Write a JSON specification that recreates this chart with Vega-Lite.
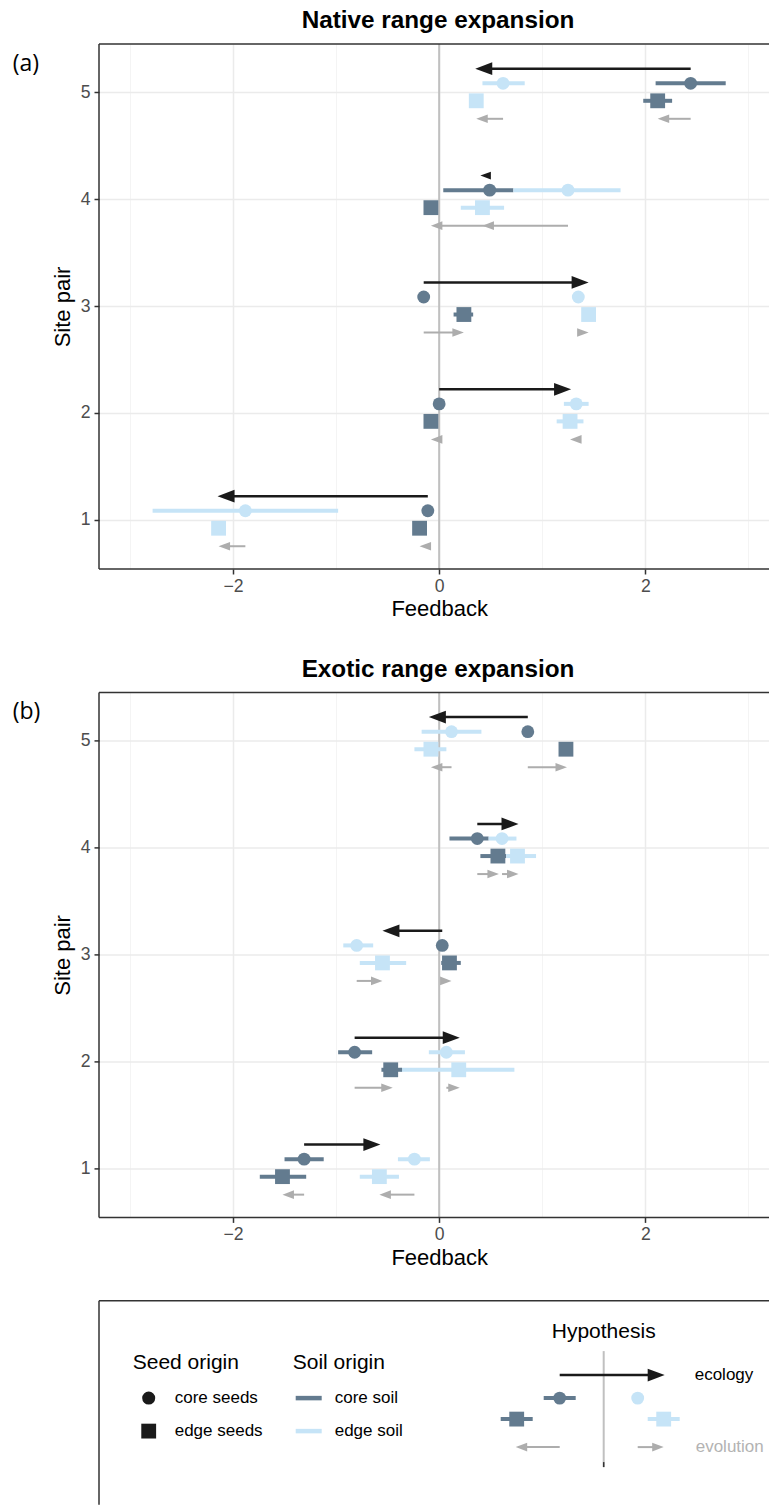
{
  "$schema": "https://vega.github.io/schema/vega-lite/v6.json",
  "background": "white",
  "padding": {"left": 12, "top": 9, "right": 0, "bottom": 0},
  "spacing": 31.4,
  "config": {
    "font": "Liberation Sans",
    "view": {"stroke": null},
    "title": {"font": "Liberation Sans", "fontSize": 24.3, "fontWeight": "bold", "color": "#000000", "anchor": "middle", "baseline": "alphabetic", "offset": 9.5, "dx": 4}
  },
  "datasets": {
    "pts": [
      {"panel": "a", "site": 5, "seed": "core seeds", "soil": "core soil", "fb": 2.44, "lo": 2.10, "hi": 2.78},
      {"panel": "a", "site": 5, "seed": "core seeds", "soil": "edge soil", "fb": 0.62, "lo": 0.42, "hi": 0.83},
      {"panel": "a", "site": 5, "seed": "edge seeds", "soil": "core soil", "fb": 2.12, "lo": 1.98, "hi": 2.26},
      {"panel": "a", "site": 5, "seed": "edge seeds", "soil": "edge soil", "fb": 0.36, "lo": 0.33, "hi": 0.39},
      {"panel": "a", "site": 4, "seed": "core seeds", "soil": "core soil", "fb": 0.49, "lo": 0.04, "hi": 0.72},
      {"panel": "a", "site": 4, "seed": "core seeds", "soil": "edge soil", "fb": 1.25, "lo": 0.72, "hi": 1.76},
      {"panel": "a", "site": 4, "seed": "edge seeds", "soil": "core soil", "fb": -0.08, "lo": -0.11, "hi": -0.05},
      {"panel": "a", "site": 4, "seed": "edge seeds", "soil": "edge soil", "fb": 0.42, "lo": 0.21, "hi": 0.63},
      {"panel": "a", "site": 3, "seed": "core seeds", "soil": "core soil", "fb": -0.15, "lo": -0.18, "hi": -0.12},
      {"panel": "a", "site": 3, "seed": "core seeds", "soil": "edge soil", "fb": 1.35, "lo": 1.32, "hi": 1.38},
      {"panel": "a", "site": 3, "seed": "edge seeds", "soil": "core soil", "fb": 0.24, "lo": 0.14, "hi": 0.33},
      {"panel": "a", "site": 3, "seed": "edge seeds", "soil": "edge soil", "fb": 1.45, "lo": 1.42, "hi": 1.48},
      {"panel": "a", "site": 2, "seed": "core seeds", "soil": "core soil", "fb": 0.00, "lo": -0.03, "hi": 0.03},
      {"panel": "a", "site": 2, "seed": "core seeds", "soil": "edge soil", "fb": 1.33, "lo": 1.21, "hi": 1.45},
      {"panel": "a", "site": 2, "seed": "edge seeds", "soil": "core soil", "fb": -0.08, "lo": -0.11, "hi": -0.05},
      {"panel": "a", "site": 2, "seed": "edge seeds", "soil": "edge soil", "fb": 1.27, "lo": 1.14, "hi": 1.40},
      {"panel": "a", "site": 1, "seed": "core seeds", "soil": "core soil", "fb": -0.11, "lo": -0.14, "hi": -0.08},
      {"panel": "a", "site": 1, "seed": "core seeds", "soil": "edge soil", "fb": -1.88, "lo": -2.78, "hi": -0.98},
      {"panel": "a", "site": 1, "seed": "edge seeds", "soil": "core soil", "fb": -0.19, "lo": -0.22, "hi": -0.16},
      {"panel": "a", "site": 1, "seed": "edge seeds", "soil": "edge soil", "fb": -2.14, "lo": -2.17, "hi": -2.11},
      {"panel": "b", "site": 5, "seed": "core seeds", "soil": "core soil", "fb": 0.86, "lo": 0.83, "hi": 0.89},
      {"panel": "b", "site": 5, "seed": "core seeds", "soil": "edge soil", "fb": 0.12, "lo": -0.17, "hi": 0.41},
      {"panel": "b", "site": 5, "seed": "edge seeds", "soil": "core soil", "fb": 1.23, "lo": 1.18, "hi": 1.28},
      {"panel": "b", "site": 5, "seed": "edge seeds", "soil": "edge soil", "fb": -0.08, "lo": -0.24, "hi": 0.07},
      {"panel": "b", "site": 4, "seed": "core seeds", "soil": "core soil", "fb": 0.37, "lo": 0.10, "hi": 0.48},
      {"panel": "b", "site": 4, "seed": "core seeds", "soil": "edge soil", "fb": 0.61, "lo": 0.48, "hi": 0.75},
      {"panel": "b", "site": 4, "seed": "edge seeds", "soil": "core soil", "fb": 0.57, "lo": 0.40, "hi": 0.65},
      {"panel": "b", "site": 4, "seed": "edge seeds", "soil": "edge soil", "fb": 0.76, "lo": 0.65, "hi": 0.94},
      {"panel": "b", "site": 3, "seed": "core seeds", "soil": "core soil", "fb": 0.03, "lo": 0.00, "hi": 0.06},
      {"panel": "b", "site": 3, "seed": "core seeds", "soil": "edge soil", "fb": -0.80, "lo": -0.93, "hi": -0.64},
      {"panel": "b", "site": 3, "seed": "edge seeds", "soil": "core soil", "fb": 0.10, "lo": 0.02, "hi": 0.21},
      {"panel": "b", "site": 3, "seed": "edge seeds", "soil": "edge soil", "fb": -0.55, "lo": -0.77, "hi": -0.32},
      {"panel": "b", "site": 2, "seed": "core seeds", "soil": "core soil", "fb": -0.82, "lo": -0.98, "hi": -0.65},
      {"panel": "b", "site": 2, "seed": "core seeds", "soil": "edge soil", "fb": 0.07, "lo": -0.10, "hi": 0.25},
      {"panel": "b", "site": 2, "seed": "edge seeds", "soil": "edge soil", "fb": 0.19, "lo": -0.38, "hi": 0.73},
      {"panel": "b", "site": 2, "seed": "edge seeds", "soil": "core soil", "fb": -0.47, "lo": -0.56, "hi": -0.36},
      {"panel": "b", "site": 1, "seed": "core seeds", "soil": "core soil", "fb": -1.31, "lo": -1.50, "hi": -1.12},
      {"panel": "b", "site": 1, "seed": "core seeds", "soil": "edge soil", "fb": -0.24, "lo": -0.40, "hi": -0.09},
      {"panel": "b", "site": 1, "seed": "edge seeds", "soil": "core soil", "fb": -1.52, "lo": -1.74, "hi": -1.29},
      {"panel": "b", "site": 1, "seed": "edge seeds", "soil": "edge soil", "fb": -0.58, "lo": -0.77, "hi": -0.39}
    ],
    "arr": [
      {"panel": "a", "site": 5, "kind": "ecology", "from": 2.44, "to": 0.35},
      {"panel": "a", "site": 5, "kind": "evolution", "from": 0.62, "to": 0.36},
      {"panel": "a", "site": 5, "kind": "evolution", "from": 2.44, "to": 2.12},
      {"panel": "a", "site": 4, "kind": "ecology", "from": 0.49, "to": 0.40},
      {"panel": "a", "site": 4, "kind": "evolution", "from": 1.25, "to": 0.42},
      {"panel": "a", "site": 4, "kind": "evolution", "from": 0.49, "to": -0.08},
      {"panel": "a", "site": 3, "kind": "ecology", "from": -0.15, "to": 1.45},
      {"panel": "a", "site": 3, "kind": "evolution", "from": -0.15, "to": 0.24},
      {"panel": "a", "site": 3, "kind": "evolution", "from": 1.35, "to": 1.45},
      {"panel": "a", "site": 2, "kind": "ecology", "from": 0.00, "to": 1.28},
      {"panel": "a", "site": 2, "kind": "evolution", "from": 0.00, "to": -0.08},
      {"panel": "a", "site": 2, "kind": "evolution", "from": 1.33, "to": 1.27},
      {"panel": "a", "site": 1, "kind": "ecology", "from": -0.11, "to": -2.15},
      {"panel": "a", "site": 1, "kind": "evolution", "from": -1.88, "to": -2.14},
      {"panel": "a", "site": 1, "kind": "evolution", "from": -0.11, "to": -0.19},
      {"panel": "b", "site": 5, "kind": "ecology", "from": 0.86, "to": -0.10},
      {"panel": "b", "site": 5, "kind": "evolution", "from": 0.12, "to": -0.08},
      {"panel": "b", "site": 5, "kind": "evolution", "from": 0.86, "to": 1.24},
      {"panel": "b", "site": 4, "kind": "ecology", "from": 0.37, "to": 0.77},
      {"panel": "b", "site": 4, "kind": "evolution", "from": 0.37, "to": 0.58},
      {"panel": "b", "site": 4, "kind": "evolution", "from": 0.61, "to": 0.77},
      {"panel": "b", "site": 3, "kind": "ecology", "from": 0.03, "to": -0.55},
      {"panel": "b", "site": 3, "kind": "evolution", "from": -0.80, "to": -0.55},
      {"panel": "b", "site": 3, "kind": "evolution", "from": 0.03, "to": 0.12},
      {"panel": "b", "site": 2, "kind": "ecology", "from": -0.82, "to": 0.20},
      {"panel": "b", "site": 2, "kind": "evolution", "from": -0.82, "to": -0.45},
      {"panel": "b", "site": 2, "kind": "evolution", "from": 0.07, "to": 0.20},
      {"panel": "b", "site": 1, "kind": "ecology", "from": -1.31, "to": -0.57},
      {"panel": "b", "site": 1, "kind": "evolution", "from": -1.31, "to": -1.52},
      {"panel": "b", "site": 1, "kind": "evolution", "from": -0.24, "to": -0.58}
    ]
  },
  "vconcat": [
    {
      "width": 670, "height": 525,
      "title": {"text": "Native range expansion"},
      "layer": [
        {"mark": {"type": "rule", "color": "#c0c0c0", "strokeWidth": 2}, "data": {"values": [{}]},
         "encoding": {"x": {"datum": 0, "type": "quantitative", "scale": {"domain": [-3.3, 3.2], "nice": false, "zero": false}}}},
        {"data": {"name": "pts"}, "transform": [{"filter": "datum.panel === 'a' && datum.seed === 'core seeds'"}],
         "mark": {"type": "rule", "strokeWidth": 4, "strokeCap": "butt", "yOffset": -9},
         "encoding": {
           "x": {"field": "lo", "type": "quantitative", "scale": {"domain": [-3.3, 3.2], "nice": false, "zero": false},
             "axis": {"title": "Feedback", "values": [-3, -2, -1, 0, 1, 2, 3], "format": "d", "labelExpr": "datum.value % 2 === 0 ? datum.label : ''", "grid": true,
               "gridColor": {"condition": {"test": "datum.value % 2 !== 0", "value": "#f4f4f4"}, "value": "#ebebeb"},
               "gridWidth": {"condition": {"test": "datum.value % 2 !== 0", "value": 1}, "value": 1.5},
               "tickColor": {"condition": {"test": "datum.value % 2 !== 0", "value": "transparent"}, "value": "#333333"},
               "tickSize": 5, "tickWidth": 1.5, "domain": false, "labelFontSize": 17.6, "labelColor": "#4d4d4d", "labelPadding": 3, "labelFont": "Liberation Sans",
               "titleFontSize": 22, "titleFontWeight": "normal", "titleColor": "#000000", "titlePadding": 4, "titleX": 340.2, "titleFont": "Liberation Sans"}},
           "x2": {"field": "hi"},
           "y": {"field": "site", "type": "quantitative", "scale": {"domain": [0.539, 5.452], "nice": false, "zero": false},
             "axis": {"title": "Site pair", "values": [1, 2, 3, 4, 5], "format": "d", "grid": true, "gridColor": "#ebebeb", "gridWidth": 1.5, "tickSize": 5, "tickWidth": 1.5, "tickColor": "#333333", "domain": false,
               "labelFontSize": 17.6, "labelColor": "#4d4d4d", "labelPadding": 4, "titleFontSize": 22, "titleFontWeight": "normal", "titleColor": "#000000", "titlePadding": 6}},
           "color": {"field": "soil", "type": "nominal", "scale": {"domain": ["core soil", "edge soil"], "range": ["#637b8f", "#c6e4f7"]}, "legend": null}
         }},
        {"data": {"name": "pts"}, "transform": [{"filter": "datum.panel === 'a' && datum.seed === 'edge seeds'"}],
         "mark": {"type": "rule", "strokeWidth": 4, "strokeCap": "butt", "yOffset": 8.5},
         "encoding": {
           "x": {"field": "lo", "type": "quantitative", "scale": {"domain": [-3.3, 3.2], "nice": false, "zero": false}},
           "x2": {"field": "hi"},
           "y": {"field": "site", "type": "quantitative", "scale": {"domain": [0.539, 5.452], "nice": false, "zero": false}},
           "color": {"field": "soil", "type": "nominal", "scale": {"domain": ["core soil", "edge soil"], "range": ["#637b8f", "#c6e4f7"]}, "legend": null}
         }},
        {"data": {"name": "pts"}, "transform": [{"filter": "datum.panel === 'a' && datum.seed === 'core seeds'"}],
         "mark": {"type": "point", "shape": "circle", "filled": true, "opacity": 1, "size": 165, "yOffset": -9},
         "encoding": {
           "x": {"field": "fb", "type": "quantitative", "scale": {"domain": [-3.3, 3.2], "nice": false, "zero": false}},
           "y": {"field": "site", "type": "quantitative", "scale": {"domain": [0.539, 5.452], "nice": false, "zero": false}},
           "color": {"field": "soil", "type": "nominal", "scale": {"domain": ["core soil", "edge soil"], "range": ["#637b8f", "#c6e4f7"]}, "legend": null}
         }},
        {"data": {"name": "pts"}, "transform": [{"filter": "datum.panel === 'a' && datum.seed === 'edge seeds'"}],
         "mark": {"type": "point", "shape": "square", "filled": true, "opacity": 1, "size": 220, "yOffset": 8.5},
         "encoding": {
           "x": {"field": "fb", "type": "quantitative", "scale": {"domain": [-3.3, 3.2], "nice": false, "zero": false}},
           "y": {"field": "site", "type": "quantitative", "scale": {"domain": [0.539, 5.452], "nice": false, "zero": false}},
           "color": {"field": "soil", "type": "nominal", "scale": {"domain": ["core soil", "edge soil"], "range": ["#637b8f", "#c6e4f7"]}, "legend": null}
         }},
        {"data": {"name": "arr"}, "transform": [{"filter": "datum.panel === 'a' && datum.kind === 'evolution' && datum.to > datum.from"}],
         "mark": {"type": "rule", "color": "#adadad", "strokeWidth": 2, "strokeCap": "butt", "yOffset": 26.5, "x2Offset": -5},
         "encoding": {
           "x": {"field": "from", "type": "quantitative", "scale": {"domain": [-3.3, 3.2], "nice": false, "zero": false}},
           "x2": {"field": "to"},
           "y": {"field": "site", "type": "quantitative", "scale": {"domain": [0.539, 5.452], "nice": false, "zero": false}}
         }},
        {"data": {"name": "arr"}, "transform": [{"filter": "datum.panel === 'a' && datum.kind === 'evolution' && datum.to < datum.from"}],
         "mark": {"type": "rule", "color": "#adadad", "strokeWidth": 2, "strokeCap": "butt", "yOffset": 26.5, "x2Offset": 5},
         "encoding": {
           "x": {"field": "from", "type": "quantitative", "scale": {"domain": [-3.3, 3.2], "nice": false, "zero": false}},
           "x2": {"field": "to"},
           "y": {"field": "site", "type": "quantitative", "scale": {"domain": [0.539, 5.452], "nice": false, "zero": false}}
         }},
        {"data": {"name": "arr"}, "transform": [{"filter": "datum.panel === 'a' && datum.kind === 'evolution'"}],
         "mark": {"type": "point", "filled": true, "opacity": 1, "color": "#adadad", "size": 132, "yOffset": 26.5},
         "encoding": {
           "x": {"field": "to", "type": "quantitative", "scale": {"domain": [-3.3, 3.2], "nice": false, "zero": false}},
           "y": {"field": "site", "type": "quantitative", "scale": {"domain": [0.539, 5.452], "nice": false, "zero": false}},
           "shape": {"condition": {"test": "datum.to > datum.from", "value": "M0,0L-2,-0.75L-2,0.75Z"}, "value": "M0,0L2,-0.75L2,0.75Z"}
         }},
        {"data": {"name": "arr"}, "transform": [{"filter": "datum.panel === 'a' && datum.kind === 'ecology' && datum.to > datum.from"}],
         "mark": {"type": "rule", "color": "#1a1a1a", "strokeWidth": 2.5, "strokeCap": "butt", "yOffset": -23.6, "x2Offset": -8},
         "encoding": {
           "x": {"field": "from", "type": "quantitative", "scale": {"domain": [-3.3, 3.2], "nice": false, "zero": false}},
           "x2": {"field": "to"},
           "y": {"field": "site", "type": "quantitative", "scale": {"domain": [0.539, 5.452], "nice": false, "zero": false}}
         }},
        {"data": {"name": "arr"}, "transform": [{"filter": "datum.panel === 'a' && datum.kind === 'ecology' && datum.to < datum.from"}],
         "mark": {"type": "rule", "color": "#1a1a1a", "strokeWidth": 2.5, "strokeCap": "butt", "yOffset": -23.6, "x2Offset": 8},
         "encoding": {
           "x": {"field": "from", "type": "quantitative", "scale": {"domain": [-3.3, 3.2], "nice": false, "zero": false}},
           "x2": {"field": "to"},
           "y": {"field": "site", "type": "quantitative", "scale": {"domain": [0.539, 5.452], "nice": false, "zero": false}}
         }},
        {"data": {"name": "arr"}, "transform": [{"filter": "datum.panel === 'a' && datum.kind === 'ecology'"}],
         "mark": {"type": "point", "filled": true, "opacity": 1, "color": "#1a1a1a", "yOffset": -23.6},
         "encoding": {
           "x": {"field": "to", "type": "quantitative", "scale": {"domain": [-3.3, 3.2], "nice": false, "zero": false}},
           "y": {"field": "site", "type": "quantitative", "scale": {"domain": [0.539, 5.452], "nice": false, "zero": false}},
           "shape": {"condition": {"test": "datum.to > datum.from", "value": "M0,0L-2,-0.75L-2,0.75Z"}, "value": "M0,0L2,-0.75L2,0.75Z"},
           "size": {"condition": {"test": "abs(datum.to - datum.from) < 0.15", "value": 110}, "value": 289}
         }},
        {"mark": {"type": "rule", "color": "#333333", "strokeWidth": 1.5}, "data": {"values": [{}]},
         "encoding": {"y": {"datum": 5.452, "type": "quantitative", "scale": {"domain": [0.539, 5.452], "nice": false, "zero": false}}}},
        {"mark": {"type": "rule", "color": "#333333", "strokeWidth": 1.5}, "data": {"values": [{}]},
         "encoding": {"y": {"datum": 0.539, "type": "quantitative", "scale": {"domain": [0.539, 5.452], "nice": false, "zero": false}}}},
        {"mark": {"type": "rule", "color": "#333333", "strokeWidth": 1.5}, "data": {"values": [{}]},
         "encoding": {"x": {"datum": -3.3, "type": "quantitative", "scale": {"domain": [-3.3, 3.2], "nice": false, "zero": false}}}},
        {"mark": {"type": "rule", "opacity": 0, "strokeWidth": 0.1}, "data": {"values": [{}]},
         "encoding": {
           "x": {"datum": -3.3, "type": "quantitative", "scale": {"domain": [-3.3, 3.2], "nice": false, "zero": false}},
           "y": {"datum": 0.539, "type": "quantitative", "scale": {"domain": [0.539, 5.452], "nice": false, "zero": false}},
           "y2": {"datum": 0.006}
         }},
        {"mark": {"type": "text", "font": "Open Sans", "fontSize": 23, "align": "left", "baseline": "middle", "color": "#000000"}, "data": {"values": [{}]},
         "encoding": {
           "x": {"datum": -4.137, "type": "quantitative", "scale": {"domain": [-3.3, 3.2], "nice": false, "zero": false}},
           "y": {"datum": 5.268, "type": "quantitative", "scale": {"domain": [0.539, 5.452], "nice": false, "zero": false}},
           "text": {"value": "(a)"}
         }}
      ]
    },
    {
      "width": 670, "height": 525,
      "title": {"text": "Exotic range expansion"},
      "layer": [
        {"mark": {"type": "rule", "color": "#c0c0c0", "strokeWidth": 2}, "data": {"values": [{}]},
         "encoding": {"x": {"datum": 0, "type": "quantitative", "scale": {"domain": [-3.3, 3.2], "nice": false, "zero": false}}}},
        {"data": {"name": "pts"}, "transform": [{"filter": "datum.panel === 'b' && datum.seed === 'core seeds'"}],
         "mark": {"type": "rule", "strokeWidth": 4, "strokeCap": "butt", "yOffset": -9},
         "encoding": {
           "x": {"field": "lo", "type": "quantitative", "scale": {"domain": [-3.3, 3.2], "nice": false, "zero": false},
             "axis": {"title": "Feedback", "values": [-3, -2, -1, 0, 1, 2, 3], "format": "d", "labelExpr": "datum.value % 2 === 0 ? datum.label : ''", "grid": true,
               "gridColor": {"condition": {"test": "datum.value % 2 !== 0", "value": "#f4f4f4"}, "value": "#ebebeb"},
               "gridWidth": {"condition": {"test": "datum.value % 2 !== 0", "value": 1}, "value": 1.5},
               "tickColor": {"condition": {"test": "datum.value % 2 !== 0", "value": "transparent"}, "value": "#333333"},
               "tickSize": 5, "tickWidth": 1.5, "domain": false, "labelFontSize": 17.6, "labelColor": "#4d4d4d", "labelPadding": 3, "labelFont": "Liberation Sans",
               "titleFontSize": 22, "titleFontWeight": "normal", "titleColor": "#000000", "titlePadding": 4, "titleX": 340.2, "titleFont": "Liberation Sans"}},
           "x2": {"field": "hi"},
           "y": {"field": "site", "type": "quantitative", "scale": {"domain": [0.539, 5.452], "nice": false, "zero": false},
             "axis": {"title": "Site pair", "values": [1, 2, 3, 4, 5], "format": "d", "grid": true, "gridColor": "#ebebeb", "gridWidth": 1.5, "tickSize": 5, "tickWidth": 1.5, "tickColor": "#333333", "domain": false,
               "labelFontSize": 17.6, "labelColor": "#4d4d4d", "labelPadding": 4, "titleFontSize": 22, "titleFontWeight": "normal", "titleColor": "#000000", "titlePadding": 6}},
           "color": {"field": "soil", "type": "nominal", "scale": {"domain": ["core soil", "edge soil"], "range": ["#637b8f", "#c6e4f7"]}, "legend": null}
         }},
        {"data": {"name": "pts"}, "transform": [{"filter": "datum.panel === 'b' && datum.seed === 'edge seeds'"}],
         "mark": {"type": "rule", "strokeWidth": 4, "strokeCap": "butt", "yOffset": 8.5},
         "encoding": {
           "x": {"field": "lo", "type": "quantitative", "scale": {"domain": [-3.3, 3.2], "nice": false, "zero": false}},
           "x2": {"field": "hi"},
           "y": {"field": "site", "type": "quantitative", "scale": {"domain": [0.539, 5.452], "nice": false, "zero": false}},
           "color": {"field": "soil", "type": "nominal", "scale": {"domain": ["core soil", "edge soil"], "range": ["#637b8f", "#c6e4f7"]}, "legend": null}
         }},
        {"data": {"name": "pts"}, "transform": [{"filter": "datum.panel === 'b' && datum.seed === 'core seeds'"}],
         "mark": {"type": "point", "shape": "circle", "filled": true, "opacity": 1, "size": 165, "yOffset": -9},
         "encoding": {
           "x": {"field": "fb", "type": "quantitative", "scale": {"domain": [-3.3, 3.2], "nice": false, "zero": false}},
           "y": {"field": "site", "type": "quantitative", "scale": {"domain": [0.539, 5.452], "nice": false, "zero": false}},
           "color": {"field": "soil", "type": "nominal", "scale": {"domain": ["core soil", "edge soil"], "range": ["#637b8f", "#c6e4f7"]}, "legend": null}
         }},
        {"data": {"name": "pts"}, "transform": [{"filter": "datum.panel === 'b' && datum.seed === 'edge seeds'"}],
         "mark": {"type": "point", "shape": "square", "filled": true, "opacity": 1, "size": 220, "yOffset": 8.5},
         "encoding": {
           "x": {"field": "fb", "type": "quantitative", "scale": {"domain": [-3.3, 3.2], "nice": false, "zero": false}},
           "y": {"field": "site", "type": "quantitative", "scale": {"domain": [0.539, 5.452], "nice": false, "zero": false}},
           "color": {"field": "soil", "type": "nominal", "scale": {"domain": ["core soil", "edge soil"], "range": ["#637b8f", "#c6e4f7"]}, "legend": null}
         }},
        {"data": {"name": "arr"}, "transform": [{"filter": "datum.panel === 'b' && datum.kind === 'evolution' && datum.to > datum.from"}],
         "mark": {"type": "rule", "color": "#adadad", "strokeWidth": 2, "strokeCap": "butt", "yOffset": 26.5, "x2Offset": -5},
         "encoding": {
           "x": {"field": "from", "type": "quantitative", "scale": {"domain": [-3.3, 3.2], "nice": false, "zero": false}},
           "x2": {"field": "to"},
           "y": {"field": "site", "type": "quantitative", "scale": {"domain": [0.539, 5.452], "nice": false, "zero": false}}
         }},
        {"data": {"name": "arr"}, "transform": [{"filter": "datum.panel === 'b' && datum.kind === 'evolution' && datum.to < datum.from"}],
         "mark": {"type": "rule", "color": "#adadad", "strokeWidth": 2, "strokeCap": "butt", "yOffset": 26.5, "x2Offset": 5},
         "encoding": {
           "x": {"field": "from", "type": "quantitative", "scale": {"domain": [-3.3, 3.2], "nice": false, "zero": false}},
           "x2": {"field": "to"},
           "y": {"field": "site", "type": "quantitative", "scale": {"domain": [0.539, 5.452], "nice": false, "zero": false}}
         }},
        {"data": {"name": "arr"}, "transform": [{"filter": "datum.panel === 'b' && datum.kind === 'evolution'"}],
         "mark": {"type": "point", "filled": true, "opacity": 1, "color": "#adadad", "size": 132, "yOffset": 26.5},
         "encoding": {
           "x": {"field": "to", "type": "quantitative", "scale": {"domain": [-3.3, 3.2], "nice": false, "zero": false}},
           "y": {"field": "site", "type": "quantitative", "scale": {"domain": [0.539, 5.452], "nice": false, "zero": false}},
           "shape": {"condition": {"test": "datum.to > datum.from", "value": "M0,0L-2,-0.75L-2,0.75Z"}, "value": "M0,0L2,-0.75L2,0.75Z"}
         }},
        {"data": {"name": "arr"}, "transform": [{"filter": "datum.panel === 'b' && datum.kind === 'ecology' && datum.to > datum.from"}],
         "mark": {"type": "rule", "color": "#1a1a1a", "strokeWidth": 2.5, "strokeCap": "butt", "yOffset": -23.6, "x2Offset": -8},
         "encoding": {
           "x": {"field": "from", "type": "quantitative", "scale": {"domain": [-3.3, 3.2], "nice": false, "zero": false}},
           "x2": {"field": "to"},
           "y": {"field": "site", "type": "quantitative", "scale": {"domain": [0.539, 5.452], "nice": false, "zero": false}}
         }},
        {"data": {"name": "arr"}, "transform": [{"filter": "datum.panel === 'b' && datum.kind === 'ecology' && datum.to < datum.from"}],
         "mark": {"type": "rule", "color": "#1a1a1a", "strokeWidth": 2.5, "strokeCap": "butt", "yOffset": -23.6, "x2Offset": 8},
         "encoding": {
           "x": {"field": "from", "type": "quantitative", "scale": {"domain": [-3.3, 3.2], "nice": false, "zero": false}},
           "x2": {"field": "to"},
           "y": {"field": "site", "type": "quantitative", "scale": {"domain": [0.539, 5.452], "nice": false, "zero": false}}
         }},
        {"data": {"name": "arr"}, "transform": [{"filter": "datum.panel === 'b' && datum.kind === 'ecology'"}],
         "mark": {"type": "point", "filled": true, "opacity": 1, "color": "#1a1a1a", "yOffset": -23.6},
         "encoding": {
           "x": {"field": "to", "type": "quantitative", "scale": {"domain": [-3.3, 3.2], "nice": false, "zero": false}},
           "y": {"field": "site", "type": "quantitative", "scale": {"domain": [0.539, 5.452], "nice": false, "zero": false}},
           "shape": {"condition": {"test": "datum.to > datum.from", "value": "M0,0L-2,-0.75L-2,0.75Z"}, "value": "M0,0L2,-0.75L2,0.75Z"},
           "size": {"condition": {"test": "abs(datum.to - datum.from) < 0.15", "value": 110}, "value": 289}
         }},
        {"mark": {"type": "rule", "color": "#333333", "strokeWidth": 1.5}, "data": {"values": [{}]},
         "encoding": {"y": {"datum": 5.452, "type": "quantitative", "scale": {"domain": [0.539, 5.452], "nice": false, "zero": false}}}},
        {"mark": {"type": "rule", "color": "#333333", "strokeWidth": 1.5}, "data": {"values": [{}]},
         "encoding": {"y": {"datum": 0.539, "type": "quantitative", "scale": {"domain": [0.539, 5.452], "nice": false, "zero": false}}}},
        {"mark": {"type": "rule", "color": "#333333", "strokeWidth": 1.5}, "data": {"values": [{}]},
         "encoding": {"x": {"datum": -3.3, "type": "quantitative", "scale": {"domain": [-3.3, 3.2], "nice": false, "zero": false}}}},
        {"mark": {"type": "text", "font": "Open Sans", "fontSize": 23, "align": "left", "baseline": "middle", "color": "#000000"}, "data": {"values": [{}]},
         "encoding": {
           "x": {"datum": -4.137, "type": "quantitative", "scale": {"domain": [-3.3, 3.2], "nice": false, "zero": false}},
           "y": {"datum": 5.268, "type": "quantitative", "scale": {"domain": [0.539, 5.452], "nice": false, "zero": false}},
           "text": {"value": "(b)"}
         }}
      ]
    },
    {
      "width": 670, "height": 204,
      "data": {"values": [{}]},
      "layer": [
        {"mark": {"type": "rule", "color": "#333333", "strokeWidth": 1.5},
         "encoding": {"y": {"datum": 0, "type": "quantitative", "scale": {"domain": [0, 20.4], "nice": false, "zero": false, "reverse": true}, "axis": null}}},
        {"mark": {"type": "rule", "color": "#333333", "strokeWidth": 1.5},
         "encoding": {"x": {"datum": 0, "type": "quantitative", "scale": {"domain": [0, 67], "nice": false, "zero": false}, "axis": null}}},
        {"mark": {"type": "text", "align": "left", "baseline": "middle", "fontSize": 21, "color": "#000000"},
         "encoding": {"x": {"datum": 3.37, "type": "quantitative"}, "y": {"datum": 6.2, "type": "quantitative"}, "text": {"value": "Seed origin"}}},
        {"mark": {"type": "point", "shape": "circle", "filled": true, "opacity": 1, "size": 170, "color": "#1a1a1a"},
         "encoding": {"x": {"datum": 4.97, "type": "quantitative"}, "y": {"datum": 9.73, "type": "quantitative"}}},
        {"mark": {"type": "text", "align": "left", "baseline": "middle", "fontSize": 17, "color": "#000000"},
         "encoding": {"x": {"datum": 7.57, "type": "quantitative"}, "y": {"datum": 9.73, "type": "quantitative"}, "text": {"value": "core seeds"}}},
        {"mark": {"type": "point", "shape": "square", "filled": true, "opacity": 1, "size": 220, "color": "#1a1a1a"},
         "encoding": {"x": {"datum": 4.97, "type": "quantitative"}, "y": {"datum": 13.03, "type": "quantitative"}}},
        {"mark": {"type": "text", "align": "left", "baseline": "middle", "fontSize": 17, "color": "#000000"},
         "encoding": {"x": {"datum": 7.57, "type": "quantitative"}, "y": {"datum": 13.03, "type": "quantitative"}, "text": {"value": "edge seeds"}}},
        {"mark": {"type": "text", "align": "left", "baseline": "middle", "fontSize": 21, "color": "#000000"},
         "encoding": {"x": {"datum": 19.37, "type": "quantitative"}, "y": {"datum": 6.2, "type": "quantitative"}, "text": {"value": "Soil origin"}}},
        {"mark": {"type": "rule", "color": "#637b8f", "strokeWidth": 4.5, "strokeCap": "butt"},
         "encoding": {"x": {"datum": 19.67, "type": "quantitative"}, "x2": {"datum": 22.27}, "y": {"datum": 9.73, "type": "quantitative"}}},
        {"mark": {"type": "text", "align": "left", "baseline": "middle", "fontSize": 17, "color": "#000000"},
         "encoding": {"x": {"datum": 23.57, "type": "quantitative"}, "y": {"datum": 9.73, "type": "quantitative"}, "text": {"value": "core soil"}}},
        {"mark": {"type": "rule", "color": "#c6e4f7", "strokeWidth": 4.5, "strokeCap": "butt"},
         "encoding": {"x": {"datum": 19.67, "type": "quantitative"}, "x2": {"datum": 22.27}, "y": {"datum": 13.03, "type": "quantitative"}}},
        {"mark": {"type": "text", "align": "left", "baseline": "middle", "fontSize": 17, "color": "#000000"},
         "encoding": {"x": {"datum": 23.57, "type": "quantitative"}, "y": {"datum": 13.03, "type": "quantitative"}, "text": {"value": "edge soil"}}},
        {"mark": {"type": "text", "align": "center", "baseline": "middle", "fontSize": 21, "color": "#000000"},
         "encoding": {"x": {"datum": 50.47, "type": "quantitative"}, "y": {"datum": 3.13, "type": "quantitative"}, "text": {"value": "Hypothesis"}}},
        {"mark": {"type": "rule", "color": "#c0c0c0", "strokeWidth": 2},
         "encoding": {"x": {"datum": 50.47, "type": "quantitative"}, "y": {"datum": 5.03, "type": "quantitative"}, "y2": {"datum": 16.63}}},
        {"mark": {"type": "rule", "color": "#333333", "strokeWidth": 1.5},
         "encoding": {"x": {"datum": 50.47, "type": "quantitative"}, "y": {"datum": 16.13, "type": "quantitative"}, "y2": {"datum": 16.63}}},
        {"mark": {"type": "rule", "color": "#1a1a1a", "strokeWidth": 2.5, "strokeCap": "butt", "x2Offset": -8},
         "encoding": {"x": {"datum": 46.07, "type": "quantitative"}, "x2": {"datum": 56.57}, "y": {"datum": 7.43, "type": "quantitative"}}},
        {"mark": {"type": "point", "filled": true, "opacity": 1, "color": "#1a1a1a", "size": 289, "shape": "M0,0L-2,-0.75L-2,0.75Z"},
         "encoding": {"x": {"datum": 56.57, "type": "quantitative"}, "y": {"datum": 7.43, "type": "quantitative"}}},
        {"mark": {"type": "text", "align": "left", "baseline": "middle", "fontSize": 17, "color": "#000000"},
         "encoding": {"x": {"datum": 59.57, "type": "quantitative"}, "y": {"datum": 7.43, "type": "quantitative"}, "text": {"value": "ecology"}}},
        {"mark": {"type": "rule", "color": "#637b8f", "strokeWidth": 4, "strokeCap": "butt"},
         "encoding": {"x": {"datum": 44.47, "type": "quantitative"}, "x2": {"datum": 47.67}, "y": {"datum": 9.73, "type": "quantitative"}}},
        {"mark": {"type": "point", "shape": "circle", "filled": true, "opacity": 1, "size": 165, "color": "#637b8f"},
         "encoding": {"x": {"datum": 46.07, "type": "quantitative"}, "y": {"datum": 9.73, "type": "quantitative"}}},
        {"mark": {"type": "rule", "color": "#637b8f", "strokeWidth": 4, "strokeCap": "butt"},
         "encoding": {"x": {"datum": 40.17, "type": "quantitative"}, "x2": {"datum": 43.37}, "y": {"datum": 11.83, "type": "quantitative"}}},
        {"mark": {"type": "point", "shape": "square", "filled": true, "opacity": 1, "size": 220, "color": "#637b8f"},
         "encoding": {"x": {"datum": 41.77, "type": "quantitative"}, "y": {"datum": 11.83, "type": "quantitative"}}},
        {"mark": {"type": "point", "shape": "circle", "filled": true, "opacity": 1, "size": 165, "color": "#c6e4f7"},
         "encoding": {"x": {"datum": 53.87, "type": "quantitative"}, "y": {"datum": 9.73, "type": "quantitative"}}},
        {"mark": {"type": "rule", "color": "#c6e4f7", "strokeWidth": 4, "strokeCap": "butt"},
         "encoding": {"x": {"datum": 54.87, "type": "quantitative"}, "x2": {"datum": 58.07}, "y": {"datum": 11.83, "type": "quantitative"}}},
        {"mark": {"type": "point", "shape": "square", "filled": true, "opacity": 1, "size": 220, "color": "#c6e4f7"},
         "encoding": {"x": {"datum": 56.47, "type": "quantitative"}, "y": {"datum": 11.83, "type": "quantitative"}}},
        {"mark": {"type": "rule", "color": "#adadad", "strokeWidth": 2, "strokeCap": "butt", "x2Offset": 5},
         "encoding": {"x": {"datum": 46.07, "type": "quantitative"}, "x2": {"datum": 41.67}, "y": {"datum": 14.63, "type": "quantitative"}}},
        {"mark": {"type": "point", "filled": true, "opacity": 1, "color": "#adadad", "size": 132, "shape": "M0,0L2,-0.75L2,0.75Z"},
         "encoding": {"x": {"datum": 41.67, "type": "quantitative"}, "y": {"datum": 14.63, "type": "quantitative"}}},
        {"mark": {"type": "rule", "color": "#adadad", "strokeWidth": 2, "strokeCap": "butt", "x2Offset": -5},
         "encoding": {"x": {"datum": 53.87, "type": "quantitative"}, "x2": {"datum": 56.47}, "y": {"datum": 14.63, "type": "quantitative"}}},
        {"mark": {"type": "point", "filled": true, "opacity": 1, "color": "#adadad", "size": 132, "shape": "M0,0L-2,-0.75L-2,0.75Z"},
         "encoding": {"x": {"datum": 56.47, "type": "quantitative"}, "y": {"datum": 14.63, "type": "quantitative"}}},
        {"mark": {"type": "text", "align": "left", "baseline": "middle", "fontSize": 17, "color": "#b3b3b3"},
         "encoding": {"x": {"datum": 59.67, "type": "quantitative"}, "y": {"datum": 14.63, "type": "quantitative"}, "text": {"value": "evolution"}}}
      ]
    }
  ]
}
